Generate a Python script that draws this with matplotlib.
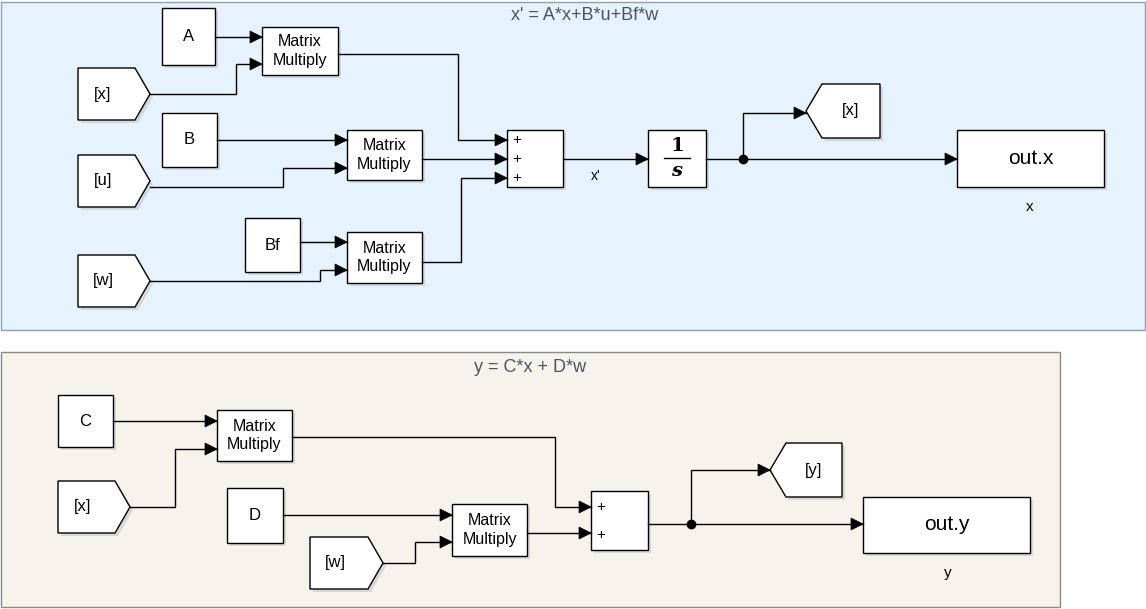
import matplotlib
matplotlib.use("Agg")
import matplotlib.pyplot as plt
from matplotlib.patches import Rectangle, Polygon

plt.rcParams['font.family'] = ['Liberation Sans', 'DejaVu Sans']

titles = ["x' = A*x+B*u+Bf*w", "y = C*x + D*w"]
const_labels = ["A", "B", "Bf", "C", "D"]
from_labels = ["[x]", "[u]", "[w]", "[x]", "[w]"]
goto_labels = ["[x]", "[y]"]
out_labels = ["out.x", "out.y"]
out_sub = ["x", "y"]
mm_label = "Matrix\nMultiply"

fig = plt.figure(figsize=(11.46, 6.09), dpi=100)
ax = fig.add_axes([0, 0, 1, 1])
ax.set_xlim(0, 1146); ax.set_ylim(609, 0); ax.axis('off')

ax.add_patch(Rectangle((1, 2), 1144, 328, fc='#e6f2fd', ec='#8aa0b4', lw=1))
ax.add_patch(Rectangle((1, 352), 1059, 255, fc='#f6f2ec', ec='#8a8a8a', lw=1))
ax.text(585, 16, titles[0], ha='center', va='center', fontsize=13, color='#4a5560')
ax.text(530, 368, titles[1], ha='center', va='center', fontsize=13, color='#4a5560')

def shadow_poly(pts):
    ax.add_patch(Polygon([(x+3, y+3) for x, y in pts], fc='#c8c8c8', ec='none', alpha=0.6))
    ax.add_patch(Polygon(pts, fc='white', ec='black', lw=1))

def block(x0, y0, x1, y1, text, fs=12, **kw):
    shadow_poly([(x0, y0), (x1, y0), (x1, y1), (x0, y1)])
    if text:
        ax.text((x0+x1)/2, (y0+y1)/2, text, ha='center', va='center', fontsize=fs, linespacing=1.3, **kw)

def from_tag(x0, y0, x1, y1, text):
    n = x1 - 15; ym = (y0+y1)/2
    shadow_poly([(x0, y0), (n, y0), (x1, ym), (n, y1), (x0, y1)])
    ax.text(x0+25, ym, text, ha='center', va='center', fontsize=12)

def goto_tag(x0, y0, x1, y1, text):
    n = x0 + 16; ym = (y0+y1)/2
    shadow_poly([(x0, ym), (n, y0), (x1, y0), (x1, y1), (n, y1)])
    ax.text((n+x1)/2, ym, text, ha='center', va='center', fontsize=12)

def wire(pts, arrow=True):
    xs = [p[0] for p in pts]; ys = [p[1] for p in pts]
    ax.plot(xs, ys, color='black', lw=1, solid_joinstyle='miter')
    if arrow:
        x, y = pts[-1]
        ax.add_patch(Polygon([(x, y), (x-12, y-6), (x-12, y+6)], fc='black', ec='black', lw=0.5))

# top
block(162, 8, 215, 65, const_labels[0])
from_tag(78, 68, 150, 120, from_labels[0])
block(262, 27, 338, 75, mm_label, 11.5)
block(162, 113, 217, 167, const_labels[1])
from_tag(78, 155, 150, 207, from_labels[1])
block(347, 130, 422, 180, mm_label, 11.5)
block(245, 218, 300, 272, const_labels[2])
from_tag(78, 255, 150, 307, from_labels[2])
block(347, 232, 422, 283, mm_label, 11.5)
block(507, 130, 563, 187, None)
for y in (140, 159, 178):
    ax.text(517, y, "+", ha='center', va='center', fontsize=11)
block(648, 130, 706, 187, None)
ax.text(677, 146, "1", ha='center', va='center', fontsize=14, family='DejaVu Serif', weight='bold')
ax.plot([664, 690], [158, 158], color='black', lw=1)
ax.text(677, 171, "s", ha='center', va='center', fontsize=14, family='DejaVu Serif', style='italic', weight='bold')
goto_tag(806, 84, 880, 138, goto_labels[0])
block(957, 130, 1104, 187, out_labels[0], 15)
ax.text(1030, 207, out_sub[0], ha='center', va='center', fontsize=11)
ax.text(596, 176, "x'", ha='center', va='center', fontsize=10)

wire([(215, 37), (262, 37)])
wire([(150, 94), (236, 94), (236, 64), (262, 64)])
wire([(338, 54), (458, 54), (458, 140), (507, 140)])
wire([(217, 140), (347, 140)])
wire([(150, 187), (283, 187), (283, 168), (347, 168)])
wire([(422, 159), (507, 159)])
wire([(300, 242), (347, 242)])
wire([(150, 281), (320, 281), (320, 270), (347, 270)])
wire([(422, 262), (461, 262), (461, 178), (507, 178)])
wire([(563, 159), (648, 159)])
wire([(706, 159), (957, 159)])
wire([(743, 159), (743, 113), (806, 113)])
ax.plot([743], [159], 'o', color='black', ms=6)

# bottom
block(58, 395, 113, 447, const_labels[3])
from_tag(58, 481, 130, 533, from_labels[3])
block(217, 410, 292, 461, mm_label, 11.5)
block(227, 488, 283, 543, const_labels[4])
from_tag(310, 537, 383, 589, from_labels[4])
block(452, 504, 527, 556, mm_label, 11.5)
block(591, 491, 648, 550, None)
for y in (507, 535):
    ax.text(601, y, "+", ha='center', va='center', fontsize=11)
goto_tag(770, 443, 842, 497, goto_labels[1])
block(863, 497, 1030, 553, out_labels[1], 15)
ax.text(948, 573, out_sub[1], ha='center', va='center', fontsize=11)

wire([(113, 421), (217, 421)])
wire([(130, 507), (175, 507), (175, 449), (217, 449)])
wire([(292, 437), (555, 437), (555, 507), (591, 507)])
wire([(283, 515), (452, 515)])
wire([(383, 563), (415, 563), (415, 542), (452, 542)])
wire([(527, 533), (591, 533)])
wire([(648, 524), (863, 524)])
wire([(691, 524), (691, 470), (770, 470)])
ax.plot([691], [524], 'o', color='black', ms=6)

fig.savefig("out.png", dpi=100)
